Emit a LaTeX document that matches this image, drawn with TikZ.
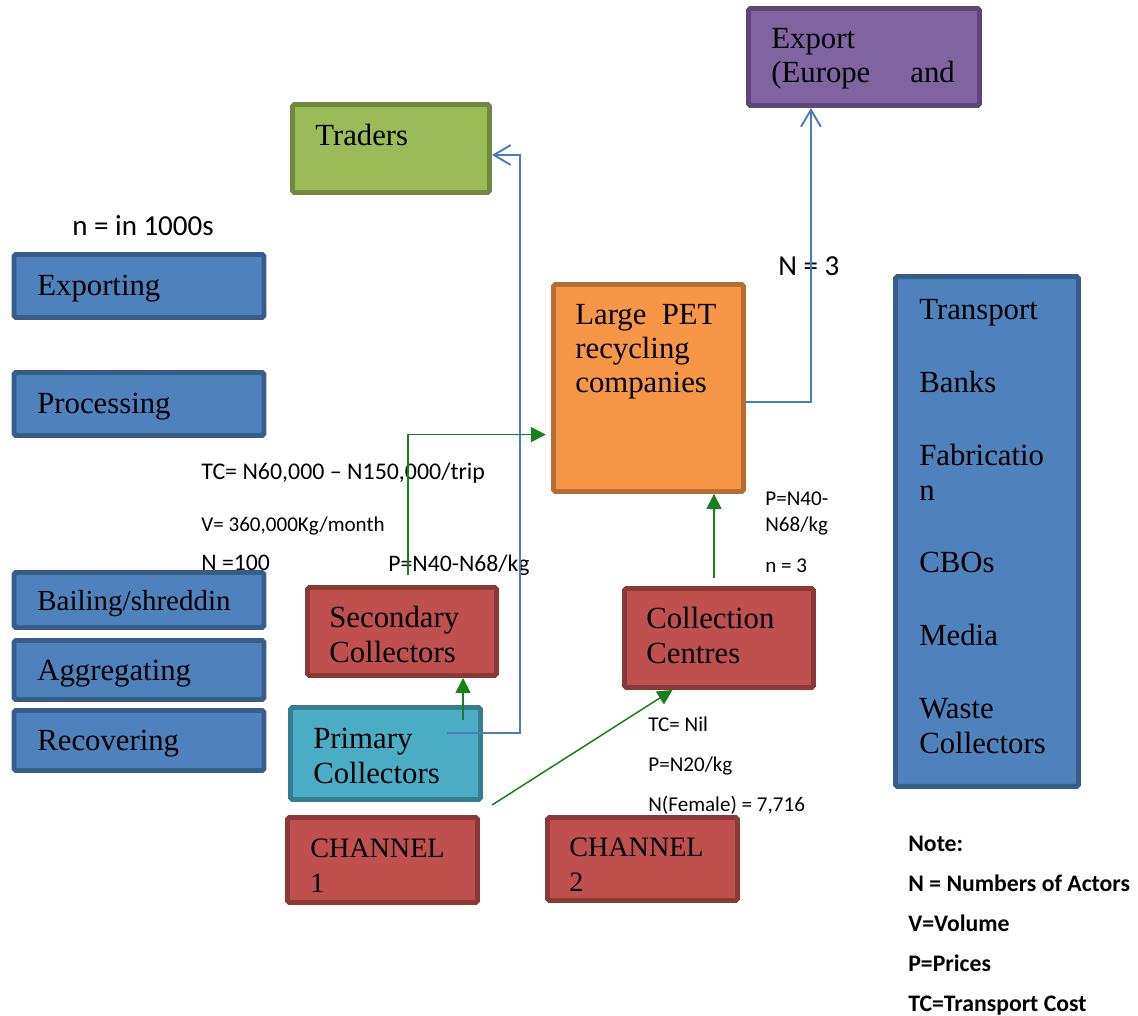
\documentclass[tikz,border=0pt]{standalone}
\usepackage{fontspec}
\setmainfont{Liberation Serif}
\newfontfamily\calibri{Carlito}
\usetikzlibrary{arrows.meta,calc}

\definecolor{actblue}{HTML}{4F81BD}
\definecolor{actblueedge}{HTML}{385D8A}
\definecolor{tradgreen}{HTML}{9BBB59}
\definecolor{tradgreenedge}{HTML}{71893F}
\definecolor{exppurple}{HTML}{8064A2}
\definecolor{exppurpleedge}{HTML}{5C4776}
\definecolor{petorange}{HTML}{F79646}
\definecolor{petorangeedge}{HTML}{B66D31}
\definecolor{collred}{HTML}{C0504D}
\definecolor{collrededge}{HTML}{8C3836}
\definecolor{primaqua}{HTML}{4BACC6}
\definecolor{primaquaedge}{HTML}{357D91}
\definecolor{lineblue}{HTML}{4A7EBB}
\definecolor{arrgreen}{HTML}{17801A}

\begin{document}
\begin{tikzpicture}[x=0.02cm, y=-0.02cm]
    \tikzstyle{box}=[draw, line width=2.8pt, rounded corners=1pt, inner sep=0pt]
    \tikzstyle{boxtxt}=[anchor=base west, align=left, inner sep=0pt, font=\fontsize{17.5}{19.5}\selectfont]
    \tikzstyle{note}=[anchor=base west, align=left, inner sep=0pt, font=\calibri\fontsize{12}{14.7}\selectfont]
    \tikzstyle{barr}=[line width=1.1pt, color=lineblue, -{Straight Barb[length=9.6pt,width=11.3pt]}]
    \tikzstyle{garr}=[line width=0.85pt, color=arrgreen, -{Triangle[length=8.5pt,width=8.5pt]}]

    \useasboundingbox (0,0) rectangle (1138,1016);

    % figures beside the flows (anchored on the baseline of the last line)
    \node[note, font=\calibri\fontsize{16.5}{19}\selectfont] (unit) at (72,236) {n = in 1000s};
    \node[note, font=\calibri\fontsize{16.5}{19}\selectfont] (nexp) at (778,276) {N = 3};
    \node[note, font=\calibri\fontsize{13.6}{16}\selectfont] (tcsec) at (201,479) {TC= N60,000 – N150,000/trip};
    \node[note] (vsec) at (201,531) {V= 360,000Kg/month};
    \node[note, font=\calibri\fontsize{13.5}{16}\selectfont] (nsec) at (201,570) {N =100};
    \node[note, font=\calibri\fontsize{13.5}{16}\selectfont] (psec) at (388,571) {P=N40-N68/kg};
    \node[note] (pcoll) at (765,531) {P=N40-\\N68/kg};
    \node[note] (ncoll) at (765,572) {n = 3};
    \node[note, font=\calibri\fontsize{12}{22.7}\selectfont] (chan) at (648,811) {TC= Nil\\P=N20/kg\\N(Female) = 7,716};
    \node[note, font=\calibri\bfseries\fontsize{13.5}{22.7}\selectfont] (key) at (908,1011)
        {Note:\\N = Numbers of Actors\\V=Volume\\P=Prices\\TC=Transport Cost};

    % activities
    \foreach \cy/\h/\n/\t in {286/1.26/exporting/Exporting, 404/1.26/processing/Processing,
                              600/1.10/bailing/{\fontsize{16.5}{19}\selectfont Bailing\slash shreddin},
                              670/1.18/aggregating/Aggregating, 740.5/1.20/recovering/Recovering} {
        \node[box, fill=actblue, draw=actblueedge, minimum width=5.0cm, minimum height=\h cm] (\n) at (139,\cy) {};
        \node[boxtxt] (\n txt) at (37,\cy+10) {\t};
    }

    % actors
    \node[box, fill=exppurple, draw=exppurpleedge, minimum width=4.62cm, minimum height=1.94cm] (export) at (864,57) {};
    \node[boxtxt] (exporttxt) at (771,83) {Export\\(Europe\hspace{1.3em}and};

    \node[box, fill=tradgreen, draw=tradgreenedge, minimum width=3.94cm, minimum height=1.76cm] (traders) at (391,148.5) {};
    \node[boxtxt] (traderstxt) at (315,146) {Traders};

    \node[box, fill=petorange, draw=petorangeedge, minimum width=3.80cm, minimum height=4.14cm] (pet) at (648.5,388) {};
    \node[boxtxt] (pettxt) at (575,393) {Large\ \ PET\\recycling\\companies};

    \node[box, fill=collred, draw=collrededge, minimum width=3.78cm, minimum height=1.76cm] (secondary) at (402,631.5) {};
    \node[boxtxt] (secondarytxt) at (329,662) {Secondary\\Collectors};

    \node[box, fill=collred, draw=collrededge, minimum width=3.78cm, minimum height=1.98cm] (coll) at (719,638) {};
    \node[boxtxt] (colltxt) at (646,663) {Collection\\Centres};

    \node[box, fill=primaqua, draw=primaquaedge, minimum width=3.80cm, minimum height=1.84cm] (primary) at (385.5,753.5) {};
    \node[boxtxt] (primarytxt) at (313,783) {Primary\\Collectors};

    \node[box, fill=collred, draw=collrededge, minimum width=3.80cm, minimum height=1.70cm] (chanone) at (382.5,860) {};
    \node[boxtxt, font=\fontsize{16}{19.5}\selectfont] (chanonetxt) at (310,892) {CHANNEL\\1};

    \node[box, fill=collred, draw=collrededge, minimum width=3.80cm, minimum height=1.66cm] (chantwo) at (642.5,859) {};
    \node[boxtxt, font=\fontsize{16}{19.5}\selectfont] (chantwotxt) at (569,891) {CHANNEL\\2};

    % support services
    \node[box, fill=actblue, draw=actblueedge, minimum width=3.66cm, minimum height=10.20cm] (support) at (987,531.5) {};
    \node[boxtxt] (supporttxt) at (919,753)
        {Transport\\[22pt]Banks\\[22pt]Fabricatio\\n\\[22pt]CBOs\\[22pt]Media\\[22pt]Waste\\Collectors};

    % flows
    \coordinate (primout) at (447,733);
    \coordinate (tradbend) at (520,155);
    \draw[barr] (primout) -| (tradbend) -- (tradbend -| traders.east);

    \coordinate (petout) at (746,402);
    \draw[barr] (petout) -| ($(export.south west)!0.275!(export.south east)$);

    \coordinate (secout) at (408,575);
    \draw[garr, shorten >=3pt] (secout) |- ($(pet.north west)!0.72!(pet.south west)$);

    \coordinate (collout) at (714,578);
    \draw[garr] (collout) -- (collout |- pet.south);

    \coordinate (primup) at (463,720);
    \draw[garr] (primup) -- (primup |- secondary.south);

    \coordinate (chanout) at (492,805);
    \draw[garr] (chanout) -- ($(coll.south west)!0.26!(coll.south east)$);

\end{tikzpicture}
\end{document}
